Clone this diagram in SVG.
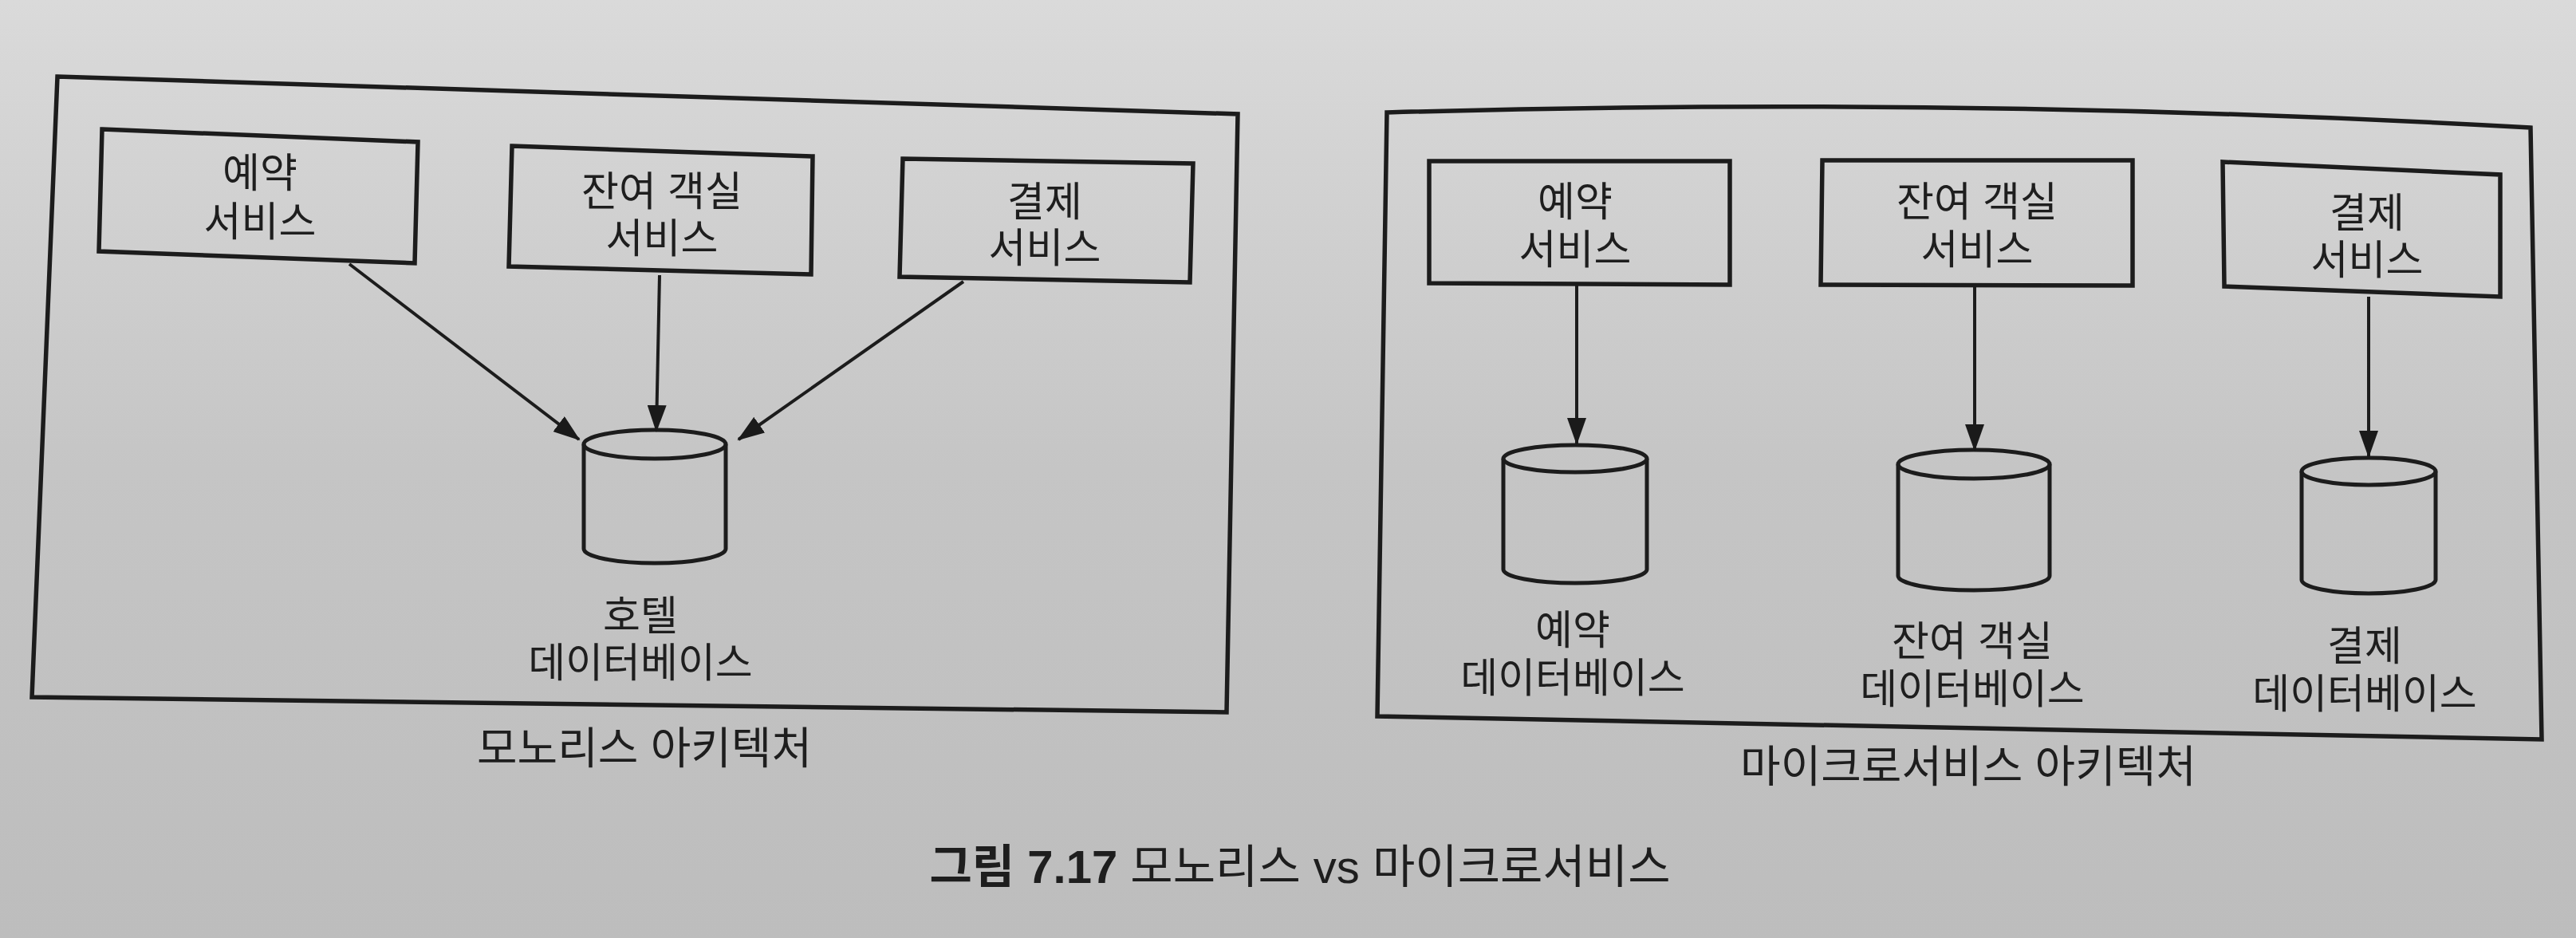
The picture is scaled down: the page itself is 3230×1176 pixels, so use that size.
<svg xmlns="http://www.w3.org/2000/svg" width="3230" height="1176" viewBox="0 0 3230 1176">
<defs>
<linearGradient id="bg" x1="0" y1="0" x2="0" y2="1">
<stop offset="0" stop-color="#dadada"/>
<stop offset="0.5" stop-color="#c5c5c5"/>
<stop offset="1" stop-color="#bdbdbd"/>
</linearGradient>
<marker id="arr" markerUnits="userSpaceOnUse" markerWidth="34" markerHeight="24" refX="32" refY="12" orient="auto">
<path d="M0,0 L34,12 L0,24 Z" fill="#1a1a1a"/>
</marker>
<style>
.frame{fill:none;stroke:#1c1c1c;stroke-width:5.5;stroke-linejoin:miter}
.box{fill:none;stroke:#1c1c1c;stroke-width:5.5}
.db{fill:none;stroke:#1c1c1c;stroke-width:5}
.edge{fill:none;stroke:#1c1c1c;stroke-width:4;marker-end:url(#arr)}
text{font-family:"Liberation Sans","Noto Sans CJK KR",sans-serif;font-size:51px;fill:#1e1e1e;text-anchor:middle}
.ttl{font-size:55px}
.cap{font-size:58px}
.b{font-weight:bold}
</style>
</defs>
<rect x="0" y="0" width="3230" height="1176" fill="url(#bg)"/>

<g id="monolith">
<path class="frame" d="M72,96 L1552,143 L1538,893 L40,874 Z"/>
<text class="ttl" x="808" y="957">모노리스 아키텍처</text>
</g>
<g id="microservice">
<path class="frame" d="M1739,141 Q2460,120 3173,160 L3187,927 L1727,898 Z"/>
<text class="ttl" x="2468" y="980">마이크로서비스 아키텍처</text>
</g>

<g id="m-reservation">
<path class="box" d="M128,162 L524,178 L520,330 L124,315 Z"/>
<text x="326" y="235">예약<tspan x="326" y="296">서비스</tspan></text>
</g>
<g id="m-inventory">
<path class="box" d="M642,183 L1019,196 L1017,344 L638,334 Z"/>
<text x="830" y="258">잔여 객실<tspan x="830" y="317">서비스</tspan></text>
</g>
<g id="m-payment">
<path class="box" d="M1132,199 L1496,205 L1492,354 L1128,347 Z"/>
<text x="1310" y="271">결제<tspan x="1310" y="329">서비스</tspan></text>
</g>
<g id="m-hoteldb">
<path class="db" d="M732,557 L732,688 A89,18 0 0 0 910,688 L910,557"/>
<ellipse class="db" cx="821" cy="557" rx="89" ry="18"/>
<text x="803" y="790">호텔<tspan x="803" y="849">데이터베이스</tspan></text>
</g>

<g id="s-reservation">
<path class="box" d="M1792,202 L2169,202 L2169,357 L1792,355 Z"/>
<text x="1975" y="271">예약<tspan x="1975" y="331">서비스</tspan></text>
</g>
<g id="s-inventory">
<path class="box" d="M2285,201 L2674,201 L2674,358 L2283,357 Z"/>
<text x="2479" y="271">잔여 객실<tspan x="2479" y="331">서비스</tspan></text>
</g>
<g id="s-payment">
<path class="box" d="M2787,203 L3135,219 L3135,372 L2789,359 Z"/>
<text x="2968" y="285">결제<tspan x="2968" y="344">서비스</tspan></text>
</g>
<g id="s-reservationdb">
<path class="db" d="M1885,575 L1885,714 A90,17 0 0 0 2065,714 L2065,575"/>
<ellipse class="db" cx="1975" cy="575" rx="90" ry="17"/>
<text x="1972" y="808">예약<tspan x="1972" y="868">데이터베이스</tspan></text>
</g>
<g id="s-inventorydb">
<path class="db" d="M2380,582 L2380,722 A95,18 0 0 0 2570,722 L2570,582"/>
<ellipse class="db" cx="2475" cy="582" rx="95" ry="18"/>
<text x="2473" y="822">잔여 객실<tspan x="2473" y="882">데이터베이스</tspan></text>
</g>
<g id="s-paymentdb">
<path class="db" d="M2886,591 L2886,727 A84,17 0 0 0 3054,727 L3054,591"/>
<ellipse class="db" cx="2970" cy="591" rx="84" ry="17"/>
<text x="2965" y="828">결제<tspan x="2965" y="888">데이터베이스</tspan></text>
</g>

<g id="connectors">
<line class="edge" x1="438" y1="331" x2="726" y2="551"/>
<line class="edge" x1="827" y1="345" x2="823" y2="540"/>
<line class="edge" x1="1208" y1="353" x2="926" y2="551"/>
<line class="edge" x1="1977" y1="357" x2="1977" y2="556"/>
<line class="edge" x1="2476" y1="358" x2="2476" y2="564"/>
<line class="edge" x1="2970" y1="372" x2="2970" y2="572"/>
</g>

<g id="caption">
<text class="cap" x="1630" y="1107"><tspan class="b">그림 7.17</tspan> 모노리스 vs 마이크로서비스</text>
</g>
</svg>
